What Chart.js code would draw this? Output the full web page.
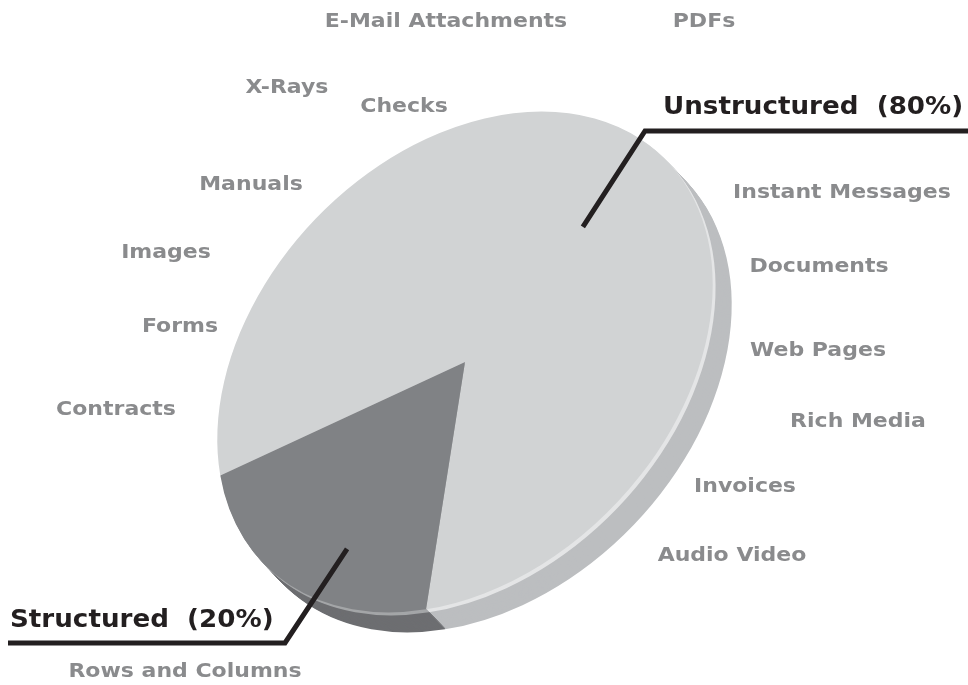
<!DOCTYPE html>
<html>
<head>
<meta charset="utf-8">
<title>Structured vs Unstructured Data</title>
<script src="https://cdn.jsdelivr.net/npm/chart.js@4.4.1/dist/chart.umd.min.js"></script>
<style>
    body { margin: 0; background: #ffffff; }
    #wrap { width: 968px; height: 685px; position: relative; }
</style>
</head>
<body>
<div id="wrap"><canvas id="myChart"></canvas></div>
<script>
// Data
const categories = ['Unstructured', 'Structured'];
const shares = [80, 20];
const dataSources = [
    'E-Mail Attachments', 'PDFs', 'X-Rays', 'Checks', 'Manuals', 'Instant Messages',
    'Images', 'Documents', 'Forms', 'Web Pages', 'Contracts', 'Rich Media',
    'Invoices', 'Audio Video', 'Rows and Columns'
];

// Styles / layout
const topColors = ['#d1d3d4', '#808285'];
const sideColors = ['#bcbec0', '#6d6e71'];
const rimColors = ['#e4e5e6', '#a4a6a8'];
const sourcePos = [
    [446, 22], [704, 22], [287, 88], [404, 107], [251, 185], [842, 193],
    [166, 253], [819, 267], [180, 327], [818, 351], [116, 410], [858, 422],
    [745, 487], [732, 556], [185, 672]
];
// tilted disc: centre, semi axes, tilt, extrusion
const disc = { cx: 465, cy: 362, a: 285, b: 207, tilt: -46, depth: 20, dx: 0.95, dy: 1 };
// callouts: anchor (fraction of radius, angle turn from slice middle), elbow, line end, text x / y
const callouts = [
    { at: 0.63, turn: 4, elbow: [645, 131], end: [968, 131], tx: 663, ty: 108 },
    { at: 0.79, turn: -8, elbow: [285, 643], end: [8, 643], tx: 10, ty: 621 }
];

function applyDisc(ctx, arc) {
    const r = arc.outerRadius;
    ctx.translate(disc.cx, disc.cy);
    ctx.rotate(disc.tilt * Math.PI / 180);
    ctx.scale(disc.a / r, disc.b / r);
    ctx.translate(-arc.x, -arc.y);
}

function wedge(ctx, arc) {
    ctx.beginPath();
    ctx.moveTo(arc.x, arc.y);
    ctx.arc(arc.x, arc.y, arc.outerRadius, arc.startAngle, arc.endAngle);
    ctx.closePath();
    ctx.fill();
}

// wide bold text, close to Verdana Bold
function wideText(ctx, text, x, y, stretch) {
    ctx.save();
    ctx.translate(x, y);
    ctx.scale(stretch, 1);
    ctx.fillText(text, 0, 0);
    ctx.restore();
}

const tiltPlugin = {
    id: 'tilt',
    beforeDatasetsDraw(chart) {
        const ctx = chart.ctx;
        const arcs = chart.getDatasetMeta(0).data;
        // side of the disc, from the bottom layer up
        for (let t = disc.depth; t >= 1; t--) {
            ctx.save();
            ctx.translate(disc.dx * t, disc.dy * t);
            applyDisc(ctx, arcs[0]);
            arcs.forEach((arc, i) => {
                ctx.fillStyle = t <= 3 ? rimColors[i] : sideColors[i];
                wedge(ctx, arc);
            });
            ctx.restore();
        }
        ctx.save();
        applyDisc(ctx, arcs[0]);
    },
    afterDatasetsDraw(chart) {
        chart.ctx.restore();
    },
    afterDraw(chart) {
        const ctx = chart.ctx;
        const arcs = chart.getDatasetMeta(0).data;

        ctx.save();
        ctx.textAlign = 'center';
        ctx.textBaseline = 'middle';
        ctx.fillStyle = '#8a8b8d';
        ctx.font = 'bold 20px "DejaVu Sans", Verdana, sans-serif';
        dataSources.forEach((s, i) => wideText(ctx, s, sourcePos[i][0], sourcePos[i][1], 1.1));
        ctx.restore();

        callouts.forEach((c, i) => {
            const arc = arcs[i];
            const mid = (arc.startAngle + arc.endAngle) / 2 + c.turn * Math.PI / 180;
            ctx.save();
            applyDisc(ctx, arc);
            const m = ctx.getTransform();
            ctx.restore();
            const p = m.transformPoint(new DOMPoint(
                arc.x + Math.cos(mid) * arc.outerRadius * c.at,
                arc.y + Math.sin(mid) * arc.outerRadius * c.at));

            ctx.save();
            ctx.strokeStyle = '#231f20';
            ctx.lineWidth = 5;
            ctx.lineJoin = 'miter';
            ctx.beginPath();
            ctx.moveTo(p.x, p.y);
            ctx.lineTo(c.elbow[0], c.elbow[1]);
            ctx.lineTo(c.end[0], c.end[1]);
            ctx.stroke();

            ctx.fillStyle = '#231f20';
            ctx.font = 'bold 24px "DejaVu Sans", Verdana, sans-serif';
            ctx.textAlign = 'left';
            ctx.textBaseline = 'middle';
            wideText(ctx, categories[i] + '  (' + shares[i] + '%)', c.tx, c.ty, 1.09);
            ctx.restore();
        });
    }
};

new Chart(document.getElementById('myChart'), {
    type: 'pie',
    data: {
        labels: categories,
        datasets: [{
            data: shares,
            backgroundColor: topColors,
            borderWidth: 0,
            clip: false
        }]
    },
    options: {
        responsive: true,
        maintainAspectRatio: false,
        animation: false,
        events: [],
        rotation: 298,
        layout: { padding: 0 },
        plugins: {
            legend: { display: false },
            tooltip: { enabled: false }
        }
    },
    plugins: [tiltPlugin]
});
</script>
</body>
</html>
